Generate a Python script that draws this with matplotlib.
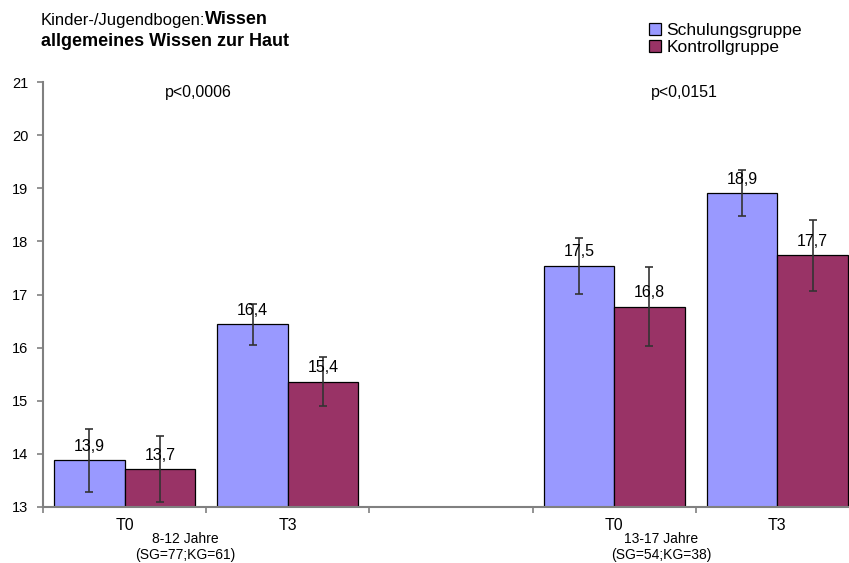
import numpy as np
import matplotlib.pyplot as plt

plt.rcParams['font.family'] = ['Liberation Sans', 'DejaVu Sans']

# Daten
kategorien = ['T0', 'T3', '', 'T0', 'T3']
schulung = [13.88, 16.44, np.nan, 17.54, 18.91]
schulung_err = [0.59, 0.39, np.nan, 0.53, 0.43]
kontroll = [13.71, 15.36, np.nan, 16.77, 17.74]
kontroll_err = [0.62, 0.455, np.nan, 0.745, 0.665]
schulung_lbl = ['13,9', '16,4', '', '17,5', '18,9']
kontroll_lbl = ['13,7', '15,4', '', '16,8', '17,7']
p_werte = ['p<0,0006', 'p<0,0151']
gruppen = [('8-12 Jahre', '(SG=77;KG=61)'), ('13-17 Jahre', '(SG=54;KG=38)')]

fig = plt.figure(figsize=(8.49, 5.63), dpi=100)
ax = fig.add_axes([43/849, 56/563, 816/849, 425/563])

r = np.arange(len(kategorien))
w = 0.432

ax.bar(r - w/2, schulung, width=w, color='#9999FF', edgecolor='black', linewidth=0.9,
       label='Schulungsgruppe')
ax.bar(r + w/2, kontroll, width=w, color='#993366', edgecolor='black', linewidth=0.9,
       label='Kontrollgruppe')
ax.errorbar(r - w/2, schulung, yerr=schulung_err, fmt='none', ecolor='#333333',
            elinewidth=1.2, capsize=3, capthick=1.2)
ax.errorbar(r + w/2, kontroll, yerr=kontroll_err, fmt='none', ecolor='#333333',
            elinewidth=1.2, capsize=3, capthick=1.2)

for i in range(len(kategorien)):
    if schulung_lbl[i]:
        ax.annotate(schulung_lbl[i], (r[i] - w/2, schulung[i]), xytext=(0, 10),
                    textcoords='offset points', ha='center', va='center', fontsize=11.5)
    if kontroll_lbl[i]:
        ax.annotate(kontroll_lbl[i], (r[i] + w/2, kontroll[i]), xytext=(0, 10),
                    textcoords='offset points', ha='center', va='center', fontsize=11.5)

ax.set_ylim(13, 21)
ax.set_xlim(-0.5, 4.5)
ax.set_yticks(range(13, 22))
ax.tick_params(axis='y', labelsize=10.5, direction='out', length=4.5, width=1.2,
               color='#808080', pad=6)

# Teilstriche zwischen den Kategorien, Beschriftung in der Mitte
ax.set_xticks(np.arange(-0.5, 5, 1))
ax.set_xticklabels([])
ax.tick_params(axis='x', which='major', direction='out', length=4.5, width=1.2, color='#808080')
ax.set_xticks(r, minor=True)
ax.set_xticklabels(kategorien, minor=True, fontsize=11.5)
ax.tick_params(axis='x', which='minor', length=0, pad=8)

for s in ['top', 'right']:
    ax.spines[s].set_visible(False)
for s in ['left', 'bottom']:
    ax.spines[s].set_color('#808080')
    ax.spines[s].set_linewidth(1.5)

ax.text(0.45, 20.81, p_werte[0], ha='center', va='center', fontsize=11.5)
ax.text(3.43, 20.81, p_werte[1], ha='center', va='center', fontsize=11.5)

# Altersgruppen unter der Achse
for x, (z1, z2) in zip([0.37, 3.29], gruppen):
    ax.text(x, 12.39, z1, ha='center', va='center', fontsize=10)
    ax.text(x, 12.09, z2, ha='center', va='center', fontsize=10)

# Titel
t1 = fig.text(41/849, 1 - 20/563, 'Kinder-/Jugendbogen:', fontsize=12, va='center')
ax.annotate('Wissen', xy=(1, 0), xycoords=t1, va='bottom', fontsize=13, fontweight='bold')
fig.text(41/849, 1 - 42/563, 'allgemeines Wissen zur Haut', fontsize=13,
         fontweight='bold', va='center')

fig.legend(loc='upper left', bbox_to_anchor=(649/849, 1 - 23/563), frameon=False,
           fontsize=12.5, handlelength=0.7, handleheight=0.7, handletextpad=0.3,
           labelspacing=0.12, borderaxespad=0, borderpad=0)

fig.savefig('out.png', dpi=100)
